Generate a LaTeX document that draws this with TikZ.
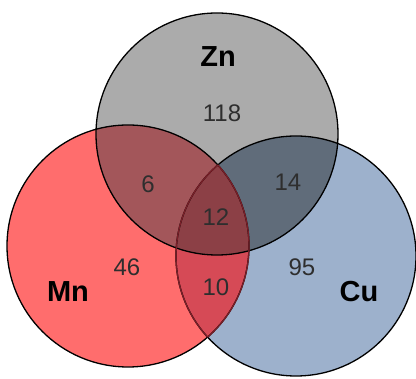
\documentclass[tikz,border=0pt]{standalone}
\usepackage{fontspec}
\setmainfont{Liberation Sans}
\definecolor{znc}{HTML}{ABABAB}
\definecolor{mnc}{HTML}{FF6D6D}
\definecolor{cuc}{HTML}{9DB1CC}
\definecolor{znmn}{HTML}{A3565A}
\definecolor{zncu}{HTML}{606C7A}
\definecolor{mncu}{HTML}{D64A56}
\definecolor{allc}{HTML}{8C4046}
\definecolor{numc}{HTML}{2E2E2E}
\definecolor{innerline}{HTML}{7A1F28}
\tikzset{
  setlabel/.style={font=\fontsize{29}{29}\selectfont\bfseries, text=black, inner sep=0pt},
  count/.style={font=\fontsize{24}{24}\selectfont, text=numc, inner sep=0pt},
  outline/.style={draw=black, line width=1.3pt}
}
\begin{document}
\begin{tikzpicture}[x=1pt,y=-1pt]
\useasboundingbox (0,0) rectangle (416,379);
\fill[white] (0,0) rectangle (416,379);
\def\ZnC{(217,134) circle [radius=121]}
\def\MnC{(128,246) circle [radius=121]}
\def\CuC{(296,256) circle [radius=120]}
% base fills
\fill[znc] \ZnC;
\fill[mnc] \MnC;
\fill[cuc] \CuC;
% pairwise intersections
\begin{scope}
  \clip \ZnC;
  \fill[znmn] \MnC;
  \fill[zncu] \CuC;
\end{scope}
\begin{scope}
  \clip \MnC;
  \fill[mncu] \CuC;
\end{scope}
\begin{scope}
  \clip \ZnC;
  \clip \MnC;
  \fill[allc] \CuC;
\end{scope}
% outlines
\draw[outline] \ZnC;
\draw[outline] \MnC;
\draw[outline] \CuC;
\begin{scope}
  \clip \MnC;
  \draw[draw=innerline, line width=1.3pt] \CuC;
\end{scope}
\begin{scope}
  \clip \CuC;
  \draw[draw=innerline, line width=1.3pt] \MnC;
\end{scope}
% labels
\node[setlabel] (zn) at (218,57) {Zn};
\node[setlabel] (mn) at (68,292) {Mn};
\node[setlabel] (cu) at (359,292) {Cu};
\node[count] (n118) at (222,113) {118};
\node[count] (n6) at (148,184) {6};
\node[count] (n14) at (288,182) {14};
\node[count] (n12) at (216,217) {12};
\node[count] (n46) at (127,267) {46};
\node[count] (n95) at (302,267) {95};
\node[count] (n10) at (216,287) {10};
\end{tikzpicture}
\end{document}
